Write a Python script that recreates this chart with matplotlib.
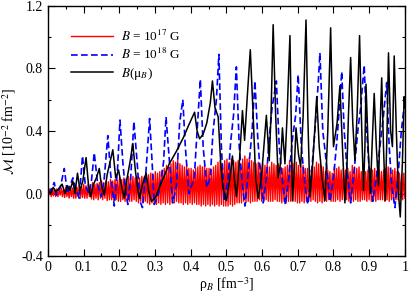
import numpy as np
import matplotlib
matplotlib.use("Agg")
import matplotlib.pyplot as plt
from matplotlib.ticker import MultipleLocator, FixedLocator, FixedFormatter

plt.rcParams['font.family'] = ['Liberation Serif', 'DejaVu Serif']
plt.rcParams['mathtext.fontset'] = 'stix'

# ---- data ----
red_y = [
    0.02,-0.01,0.03,-0.02,0.025,-0.015,0.03,-0.02,
    0.03,-0.02,0.02,-0.01,0.035,-0.02,0.03,-0.025,
    0.04,-0.02,0.03,-0.03,0.04,-0.02,0.035,-0.03,
    0.05,-0.03,0.04,-0.02,0.05,-0.03,0.045,-0.025,
    0.06,-0.03,0.05,-0.03,0.06,-0.02,0.055,-0.035,
    0.07,-0.04,0.06,-0.03,0.065,-0.04,0.07,-0.03,
    0.08,-0.04,0.07,-0.03,0.08,-0.045,0.075,-0.04,
    0.09,-0.04,0.08,-0.05,0.09,-0.04,0.085,-0.05,
    0.10,-0.05,0.09,-0.04,0.10,-0.05,0.095,-0.05,
    0.11,-0.05,0.10,-0.05,0.11,-0.04,0.10,-0.05,
    0.11,-0.06,0.10,-0.05,0.11,-0.06,0.105,-0.05,
    0.13,-0.06,0.12,-0.07,0.13,-0.06,0.12,-0.07,
    0.14,-0.07,0.13,-0.06,0.14,-0.07,0.15,-0.06,
    0.16,-0.07,0.18,-0.06,0.17,-0.07,0.19,-0.06,
    0.21,-0.06,0.20,-0.05,0.22,-0.06,0.19,-0.06,
    0.18,-0.07,0.17,-0.06,0.18,-0.07,0.16,-0.06,
    0.16,-0.07,0.15,-0.06,0.16,-0.07,0.17,-0.07,
    0.18,-0.08,0.17,-0.07,0.18,-0.08,0.16,-0.07,
    0.16,-0.08,0.15,-0.07,0.17,-0.08,0.18,-0.07,
    0.20,-0.08,0.21,-0.07,0.19,-0.08,0.21,-0.08,
    0.22,-0.08,0.20,-0.07,0.22,-0.08,0.21,-0.07,
    0.20,-0.06,0.21,-0.06,0.19,-0.06,0.22,-0.05,
    0.24,-0.06,0.22,-0.05,0.23,-0.06,0.21,-0.05,
    0.20,-0.05,0.19,-0.05,0.20,-0.04,0.18,-0.05,
    0.19,-0.05,0.18,-0.04,0.19,-0.05,0.17,-0.05,
    0.20,-0.05,0.19,-0.04,0.18,-0.05,0.19,-0.05,
    0.17,-0.06,0.16,-0.05,0.17,-0.06,0.18,-0.05,
    0.21,-0.05,0.20,-0.05,0.19,-0.05,0.20,-0.06,
    0.18,-0.06,0.17,-0.05,0.18,-0.06,0.16,-0.05,
    0.16,-0.05,0.15,-0.05,0.16,-0.04,0.17,-0.05,
    0.20,-0.06,0.19,-0.05,0.18,-0.06,0.17,-0.05,
    0.14,-0.05,0.15,-0.04,0.14,-0.05,0.13,-0.05,
    0.17,-0.05,0.16,-0.04,0.17,-0.05,0.15,-0.04,
    0.16,-0.04,0.15,-0.04,0.16,-0.05,0.14,-0.04,
    0.18,-0.05,0.17,-0.04,0.16,-0.05,0.17,-0.05,
    0.14,-0.04,0.13,-0.04,0.14,-0.05,0.15,-0.04,
    0.16,-0.05,0.15,-0.04,0.16,-0.05,0.14,-0.04,
    0.15,-0.04,0.14,-0.04,0.15,-0.05,0.16,-0.04,
    0.17,-0.05,0.16,-0.04,0.15,-0.05,0.16,-0.04,
    0.14,-0.04,0.13,-0.03,0.12,-0.04,0.13,-0.03,
]
red_x = np.linspace(0.0, 1.0, len(red_y))

blue_x = [0.0,0.01,0.018,0.024,0.035,0.046,0.055,0.062,0.07,0.08,0.088,0.097,0.105,0.115,
          0.122,0.13,0.14,0.15,0.158,0.168,0.176,0.186,0.195,0.202,0.21,0.216,0.224,0.232,
          0.241,0.25,0.258,0.265,0.275,0.285,0.292,0.298,0.31,0.318,0.324,0.331,0.34,0.35,
          0.36,0.369,0.378,0.385,0.395,0.41,0.418,0.427,0.435,0.445,0.455,0.462,0.472,0.479,
          0.486,0.494,0.505,0.512,0.52,0.528,0.536,0.545,0.552,0.562,0.572,0.58,0.588,0.596,
          0.603,0.612,0.62,0.628,0.64,0.648,0.656,0.665,0.675,0.685,0.694,0.701,0.71,0.72,
          0.728,0.738,0.748,0.757,0.762,0.77,0.78,0.79,0.80,0.81,0.818,0.823,0.83,0.838,
          0.848,0.858,0.868,0.876,0.886,0.893,0.90,0.91,0.92,0.93,0.94,0.949,0.956,0.963,
          0.972,0.982,0.99,1.0]
blue_y = [0.0,0.03,0.07,-0.01,0.04,0.16,0.0,0.05,0.10,0.02,-0.03,0.24,0.05,0.0,
          0.08,0.26,0.05,-0.02,0.10,0.37,0.12,-0.08,0.15,0.47,0.20,0.05,-0.07,0.10,
          0.46,0.20,-0.05,-0.09,0.15,0.48,0.20,-0.07,0.0,0.10,0.20,0.49,0.22,-0.06,
          0.05,0.45,0.60,0.30,0.0,0.10,0.40,0.73,0.30,0.04,0.10,0.38,0.60,0.89,
          0.30,-0.05,0.10,0.33,0.50,0.81,0.30,0.05,-0.08,0.15,0.40,0.72,0.35,0.10,
          -0.06,0.10,0.35,0.55,0.72,0.30,0.10,-0.07,0.10,0.35,0.50,0.76,0.30,0.05,
          -0.07,0.12,0.40,0.70,0.90,0.40,0.20,-0.05,0.10,0.35,0.60,0.78,0.40,0.15,
          -0.06,0.15,0.40,0.55,0.82,0.40,0.15,-0.05,0.10,0.30,0.50,0.71,0.30,0.05,
          -0.09,0.15,0.40,0.60]

black_x = [0.0,0.008,0.015,0.022,0.03,0.04,0.048,0.055,0.062,0.07,0.076,0.083,0.09,0.098,
           0.107,0.114,0.12,0.128,0.136,0.144,0.15,0.158,0.166,0.174,0.182,0.19,0.198,0.206,
           0.214,0.222,0.23,0.238,0.245,0.252,0.257,0.262,0.268,0.275,0.282,0.29,0.30,0.32,
           0.34,0.36,0.38,0.395,0.411,0.418,0.425,0.435,0.445,0.455,0.461,0.468,0.477,0.484,
           0.49,0.50,0.51,0.517,0.522,0.528,0.535,0.545,0.551,0.558,0.567,0.575,0.582,0.589,
           0.598,0.605,0.612,0.62,0.625,0.631,0.638,0.645,0.652,0.657,0.664,0.67,0.678,0.682,
           0.685,0.69,0.695,0.702,0.708,0.715,0.723,0.728,0.734,0.742,0.753,0.76,0.768,0.776,
           0.784,0.792,0.797,0.80,0.81,0.818,0.825,0.832,0.838,0.842,0.848,0.854,0.86,0.866,
           0.873,0.878,0.884,0.888,0.891,0.897,0.903,0.908,0.914,0.92,0.926,0.93,0.935,0.94,
           0.945,0.95,0.954,0.96,0.965,0.97,0.976,0.982,0.987,0.993,0.998,1.0]
black_y = [0.02,0.0,0.04,0.01,0.03,0.06,0.0,0.05,0.02,0.08,0.0,0.13,0.02,0.08,
           0.23,0.05,-0.02,0.06,0.10,0.16,0.05,-0.01,0.12,0.20,0.28,0.10,0.15,0.05,
           -0.03,0.10,0.20,0.32,0.15,0.02,-0.03,0.03,0.08,0.13,0.02,-0.05,-0.03,0.08,
           0.19,0.27,0.36,0.44,0.52,0.40,0.35,0.38,0.45,0.58,0.72,0.55,0.49,0.20,
           0.04,-0.045,0.10,0.24,0.10,-0.02,0.15,0.53,0.34,0.60,0.92,0.50,0.10,-0.03,
           0.10,0.30,0.50,0.21,0.50,1.08,0.50,0.10,0.20,0.42,0.19,0.50,1.01,0.40,
           -0.045,0.15,0.42,0.25,0.17,0.50,1.11,0.50,-0.02,0.20,0.62,0.30,0.10,-0.045,
           0.40,1.06,0.50,0.30,0.45,0.69,0.30,-0.06,0.20,0.51,0.87,0.45,0.21,0.50,
           1.01,0.50,0.02,0.30,0.70,0.30,0.0,0.30,0.64,0.30,0.05,0.40,0.74,0.30,
           -0.045,0.40,0.90,0.40,0.30,0.88,0.40,0.0,-0.15,0.20,0.62,0.55]

x_ticks = [0.0,0.1,0.2,0.3,0.4,0.5,0.6,0.7,0.8,0.9,1.0]
x_labels = ["0","0.1","0.2","0.3","0.4","0.5","0.6","0.7","0.8","0.9","1"]
y_ticks = [-0.4,0.0,0.4,0.8,1.2]
y_labels = ["-0.4","0.0","0.4","0.8","1.2"]

# ---- plot ----
fig = plt.figure(figsize=(4.09, 2.96), dpi=100)
ax = fig.add_axes([0.117, 0.135, 0.873, 0.845])

ax.plot(red_x, red_y, color='red', lw=1.0, label=r'$B$ = 10$^{17}$ G')
ax.plot(blue_x, blue_y, color='blue', lw=1.2, ls=(0, (4, 2)), label=r'$B$ = 10$^{18}$ G')
ax.plot(black_x, black_y, color='black', lw=1.1, label=r'$B$(μ$_B$)')

ax.set_xlim(0, 1)
ax.set_ylim(-0.4, 1.2)
ax.xaxis.set_major_locator(FixedLocator(x_ticks))
ax.xaxis.set_major_formatter(FixedFormatter(x_labels))
ax.yaxis.set_major_locator(FixedLocator(y_ticks))
ax.yaxis.set_major_formatter(FixedFormatter(y_labels))
ax.xaxis.set_minor_locator(MultipleLocator(0.05))
ax.yaxis.set_minor_locator(MultipleLocator(0.2))
ax.tick_params(which='both', direction='in', top=True, right=True, labelsize=10)
ax.tick_params(which='major', length=5, width=0.8)
ax.tick_params(which='minor', length=2.5, width=0.8)
for s in ax.spines.values():
    s.set_linewidth(1.0)

ax.set_xlabel(r'ρ$_B$ [fm$^{-3}$]', fontsize=10, labelpad=1)
ax.set_ylabel(r'$\mathcal{M}$ [10$^{-2}$ fm$^{-2}$]', fontsize=10, labelpad=2)

leg = ax.legend(loc='upper left', bbox_to_anchor=(0.05, 0.93), frameon=False,
                fontsize=9.5, handlelength=3.2, handletextpad=0.6, labelspacing=0.25,
                borderaxespad=0)

fig.savefig('out.png', dpi=100)
